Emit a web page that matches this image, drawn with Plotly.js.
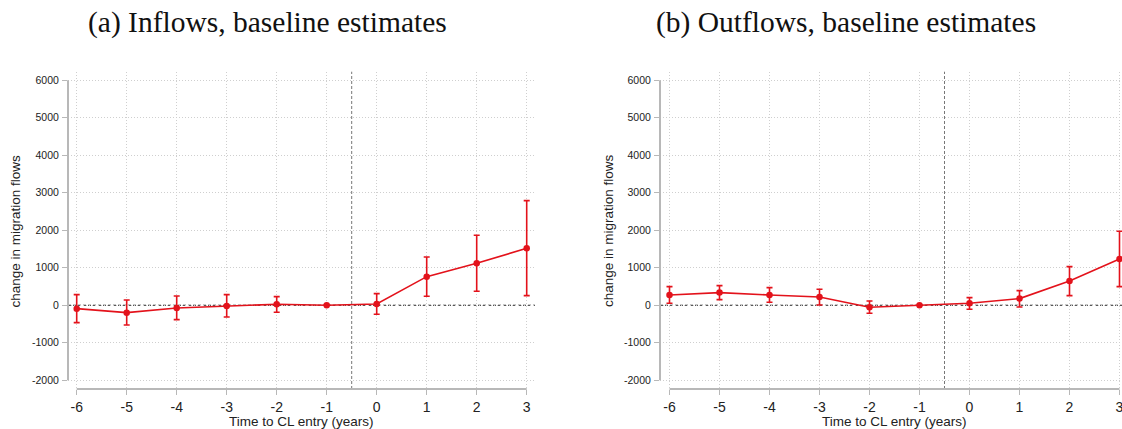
<!DOCTYPE html>
<html>
<head>
<meta charset="utf-8">
<script src="https://cdn.plot.ly/plotly-3.0.1.min.js"></script>
<style>html,body{margin:0;padding:0;overflow:hidden;background:#fff;}</style>
</head>
<body>
<div id="chart" style="width:1122px;height:429px;"></div>
<script>
// Data
var years = [-6, -5, -4, -3, -2, -1, 0, 1, 2, 3];

var inflowEst   = [-89, -196, -71, -18, 27, 0, 36, 764, 1120, 1520];
var inflowUpper = [284, 142, 249, 284, 231, 0, 311, 1289, 1867, 2791];
var inflowLower = [-462, -524, -382, -311, -187, 0, -240, 240, 373, 258];

var outflowEst   = [276, 338, 276, 222, -53, 0, 53, 178, 649, 1236];
var outflowUpper = [498, 524, 471, 427, 116, 0, 204, 391, 1031, 1973];
var outflowLower = [53, 151, 80, 9, -213, 0, -107, -44, 258, 498];

var yTicks = [-2000, -1000, 0, 1000, 2000, 3000, 4000, 5000, 6000];
var xTicks = years;

var panelTitles = ["(a) Inflows, baseline estimates", "(b) Outflows, baseline estimates"];
var xTitle = "Time to CL entry (years)";
var yTitle = "change in migration flows";

var W = 1122, H = 429;
var RED = "#e3121b";
var GRID = "#cfcfcf";
var AXIS = "#b8b8b8";

function trace(est, up, lo, xa, ya) {
  return {
    x: years, y: est, xaxis: xa, yaxis: ya,
    type: "scatter", mode: "lines+markers",
    line: {color: RED, width: 1.6},
    marker: {color: RED, size: 6.5},
    error_y: {
      type: "data", symmetric: false,
      array: up.map(function (u, i) { return u - est[i]; }),
      arrayminus: est.map(function (e, i) { return e - lo[i]; }),
      color: RED, thickness: 1.6, width: 3
    },
    cliponaxis: false,
    hoverinfo: "x+y", showlegend: false
  };
}

function px(x) { return x / W; }
function py(y) { return (H - y) / H; }

var yDomain = [py(389), py(71.7)];
var yRange = [-2232, 6229];

function xaxis(domain, range) {
  return {
    domain: domain, range: range,
    tickmode: "array", tickvals: xTicks, ticktext: xTicks.map(String),
    ticks: "outside", ticklen: 5, tickwidth: 1, tickcolor: AXIS,
    showline: false, zeroline: false,
    showgrid: true, gridcolor: GRID, griddash: "1px,2px", gridwidth: 1,
    tickfont: {family: "Liberation Sans, Arial, sans-serif", size: 14, color: "#222"},
    ticklabeloverflow: "allow",
    fixedrange: true
  };
}
function yaxis(anchor) {
  return {
    domain: yDomain, range: yRange, anchor: anchor,
    tickmode: "array", tickvals: yTicks, ticktext: yTicks.map(String),
    ticks: "outside", ticklen: 5, tickwidth: 1, tickcolor: AXIS,
    showline: false, zeroline: false,
    showgrid: true, gridcolor: GRID, griddash: "1px,2px", gridwidth: 1,
    tickfont: {family: "Liberation Sans, Arial, sans-serif", size: 10.5, color: "#222"},
    ticklabelstandoff: 1,
    fixedrange: true
  };
}

var shapes = [];
function panelShapes(xa, ya) {
  var xd = xa + " domain", yd = ya + " domain";
  // zero line
  shapes.push({type: "line", xref: xd, yref: ya, x0: 0, x1: 1, y0: 0, y1: 0,
    line: {color: "#222", width: 1.1, dash: "3px,2px"}, layer: "below"});
  // vertical reference line
  shapes.push({type: "line", xref: xa, yref: yd, x0: -0.5, x1: -0.5, y0: 0, y1: 1,
    line: {color: "#777", width: 1, dash: "3px,2px"}, layer: "below"});
  // axis lines
  shapes.push({type: "line", xref: xd, yref: ya, x0: 0, x1: 0, y0: -2000, y1: 6000,
    line: {color: AXIS, width: 2}, layer: "above"});
  shapes.push({type: "line", xref: xa, yref: yd, x0: -6, x1: 3, y0: 0, y1: 0,
    line: {color: AXIS, width: 2}, layer: "above"});
}
panelShapes("x", "y");
panelShapes("x2", "y2");

var titleFont = {family: "Liberation Serif, Times New Roman, serif", size: 29.5, color: "#111"};
var axTitleFont = {family: "Liberation Sans, Arial, sans-serif", size: 13.5, color: "#222"};

var annotations = [
  {text: panelTitles[0], xref: "paper", yref: "paper", x: px(267), y: py(23),
   xanchor: "center", yanchor: "middle", showarrow: false, font: titleFont},
  {text: panelTitles[1], xref: "paper", yref: "paper", x: px(846), y: py(23),
   xanchor: "center", yanchor: "middle", showarrow: false, font: titleFont},
  {text: xTitle, xref: "paper", yref: "paper", x: px(301.5), y: py(421),
   xanchor: "center", yanchor: "middle", showarrow: false, font: axTitleFont},
  {text: xTitle, xref: "paper", yref: "paper", x: px(894.5), y: py(421),
   xanchor: "center", yanchor: "middle", showarrow: false, font: axTitleFont},
  {text: yTitle, xref: "paper", yref: "paper", x: px(14.5), y: py(231),
   xanchor: "center", yanchor: "middle", textangle: -90, showarrow: false, font: axTitleFont},
  {text: yTitle, xref: "paper", yref: "paper", x: px(608), y: py(231),
   xanchor: "center", yanchor: "middle", textangle: -90, showarrow: false, font: axTitleFont}
];

var layout = {
  width: W, height: H,
  margin: {l: 0, r: 0, t: 0, b: 0},
  paper_bgcolor: "#fff", plot_bgcolor: "#fff",
  xaxis: xaxis([px(68), px(535)], [-6.174, 3.166]),
  yaxis: yaxis("x"),
  xaxis2: xaxis([px(660), 1], [-6.19, 3.05]),
  yaxis2: yaxis("x2"),
  shapes: shapes,
  annotations: annotations,
  showlegend: false
};
layout.xaxis.anchor = "y";
layout.xaxis2.anchor = "y2";

Plotly.newPlot("chart", [
  trace(inflowEst, inflowUpper, inflowLower, "x", "y"),
  trace(outflowEst, outflowUpper, outflowLower, "x2", "y2")
], layout, {displayModeBar: false, staticPlot: true});
</script>
</body>
</html>
